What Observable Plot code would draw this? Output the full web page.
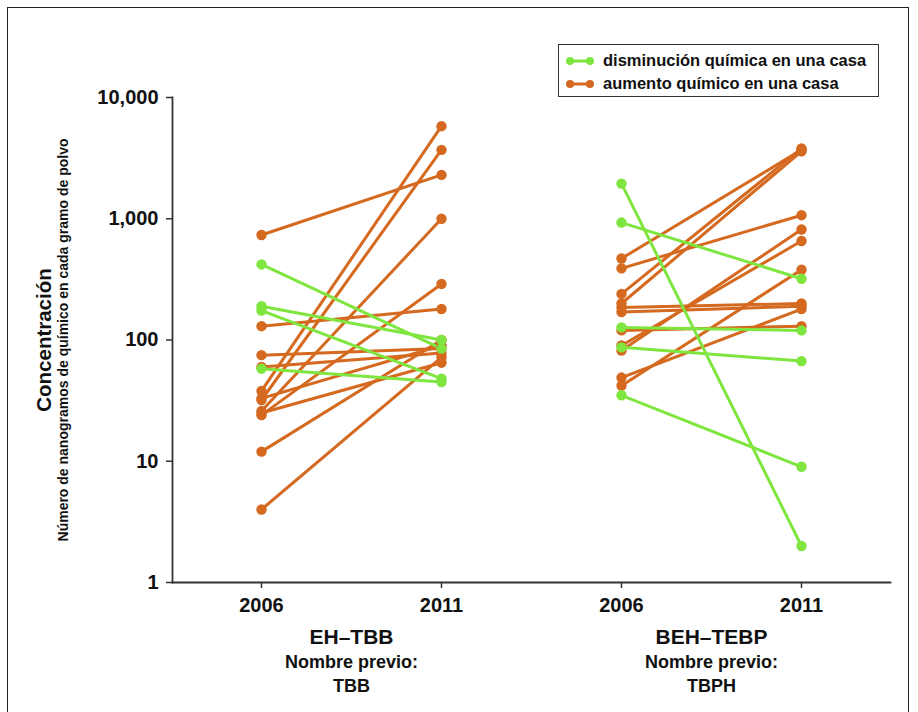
<!DOCTYPE html>
<html>
<head>
<meta charset="utf-8">
<script src="https://cdn.jsdelivr.net/npm/d3@7"></script>
<script src="https://cdn.jsdelivr.net/npm/@observablehq/plot@0.6"></script>
<style>
  html, body { margin: 0; padding: 0; background: #fff; }
  body { width: 918px; height: 712px; position: relative; overflow: hidden;
         font-family: "Liberation Sans", Arial, Helvetica, sans-serif; }
  #border { position: absolute; left: 7px; top: 7px; width: 902px; height: 720px;
            border: 1.5px solid #222; box-sizing: border-box; pointer-events: none; }
  #chart { position: absolute; left: 0; top: 0; }
  #legend { position: absolute; left: 558px; top: 44px; width: 321px; height: 53px;
            border: 1.5px solid #333; background: #fff; box-sizing: border-box;
            padding: 4px 0 0 6px; }
  .item { display: flex; align-items: center; height: 23px; font-weight: bold;
          font-size: 16.5px; color: #111; }
  .item svg { margin-right: 8px; }
</style>
</head>
<body>
<div id="chart"></div>
<div id="legend"></div>
<div id="border"></div>
<script>
// ---- data ----
const groups = ["EH–TBB", "BEH–TEBP"];
const previousNames = ["TBB", "TBPH"];
const previousLabel = "Nombre previo:";
const years = ["2006", "2011"];
const yTicks = [1, 10, 100, 1000, 10000];
const kinds = ["disminución química en una casa", "aumento químico en una casa"];
const kindColors = ["#7fe53f", "#d4691f"];
const yTitle = "Concentración";
const ySubtitle = "Número de nanogramos de químico en cada gramo de polvo";

// EH–TBB
const ehtbbDecrease2006 = [420, 190, 175, 58];
const ehtbbDecrease2011 = [85, 100, 48, 45];
const ehtbbIncrease2006 = [735, 38, 32, 26, 24, 130, 75, 60, 12, 4, 25, 33];
const ehtbbIncrease2011 = [2300, 5800, 3700, 1000, 290, 180, 85, 78, 100, 72, 65, 90];
// BEH–TEBP
const behtebpDecrease2006 = [1950, 930, 127, 87, 35];
const behtebpDecrease2011 = [2, 320, 120, 67, 9];
const behtebpIncrease2006 = [470, 390, 240, 200, 185, 170, 120, 90, 82, 49, 42];
const behtebpIncrease2011 = [3700, 1070, 3800, 3600, 200, 190, 130, 655, 815, 180, 380];

// ---- build tables ----
const key = (g, y) => g + " " + y;
const xDomain = groups.flatMap(g => years.map(y => key(g, y)));
function pairs(group, v06, v11, kind) {
  return v06.map((a, i) => ({group, kind, x1: key(group, years[0]), x2: key(group, years[1]), y1: a, y2: v11[i]}));
}
const rows = [
  ...pairs(groups[0], ehtbbIncrease2006, ehtbbIncrease2011, kinds[1]),
  ...pairs(groups[1], behtebpIncrease2006, behtebpIncrease2011, kinds[1]),
  ...pairs(groups[0], ehtbbDecrease2006, ehtbbDecrease2011, kinds[0]),
  ...pairs(groups[1], behtebpDecrease2006, behtebpDecrease2011, kinds[0])
];
const points = rows.flatMap(r => [{x: r.x1, y: r.y1, kind: r.kind}, {x: r.x2, y: r.y2, kind: r.kind}]);

const bold = {fontWeight: "bold", fill: "#111"};
const below = {frameAnchor: "bottom", textAnchor: "middle", lineAnchor: "middle", dx: 90};

const chart = Plot.plot({
  width: 918,
  height: 712,
  marginLeft: 172,
  marginRight: 28,
  marginTop: 97,
  marginBottom: 130,
  style: {fontFamily: "'Liberation Sans', Arial, Helvetica, sans-serif", background: "transparent", color: "#222"},
  x: {type: "point", domain: xDomain, padding: 0.494, axis: null},
  y: {type: "log", domain: [1, 10000], axis: null},
  color: {domain: kinds, range: kindColors},
  marks: [
    Plot.frame({anchor: "left", stroke: "#333", strokeWidth: 1.8}),
    Plot.frame({anchor: "bottom", stroke: "#333", strokeWidth: 1.8}),
    Plot.axisY(yTicks, {tickFormat: d3.format(","), tickSize: 6, tickPadding: 8, fontSize: 20, fontWeight: "bold", stroke: "#333", strokeWidth: 1.5, color: "#111", label: null}),
    Plot.axisX({tickFormat: d => d.split(" ").pop(), tickSize: 6, tickPadding: 9, fontSize: 20, fontWeight: "bold", stroke: "#333", strokeWidth: 1.5, color: "#111", label: null}),
    Plot.link(rows, {x1: "x1", x2: "x2", y1: "y1", y2: "y2", stroke: "kind", strokeWidth: 3}),
    Plot.dot(points, {x: "x", y: "y", fill: "kind", r: 5.2}),
    Plot.text(groups, {x: g => key(g, years[0]), ...below, dy: 55, fontSize: 21, ...bold}),
    Plot.text(groups, {x: g => key(g, years[0]), text: () => previousLabel, ...below, dy: 80, fontSize: 18, ...bold}),
    Plot.text(previousNames, {x: (d, i) => key(groups[i], years[0]), ...below, dy: 104, fontSize: 18, ...bold}),
    Plot.text([yTitle], {frameAnchor: "left", textAnchor: "middle", lineAnchor: "middle", rotate: -90, dx: -128, fontSize: 20.5, ...bold}),
    Plot.text([ySubtitle], {frameAnchor: "left", textAnchor: "middle", lineAnchor: "middle", rotate: -90, dx: -109, fontSize: 14, ...bold})
  ]
});
document.getElementById("chart").appendChild(chart);

// ---- legend ----
const legend = document.getElementById("legend");
kinds.forEach((k, i) => {
  const c = kindColors[i];
  const item = document.createElement("div");
  item.className = "item";
  item.innerHTML = `<svg width="30" height="12"><line x1="5" y1="6" x2="25" y2="6" stroke="${c}" stroke-width="3"/><circle cx="5" cy="6" r="4" fill="${c}"/><circle cx="25" cy="6" r="4" fill="${c}"/></svg><span>${k}</span>`;
  legend.appendChild(item);
});
</script>
</body>
</html>
